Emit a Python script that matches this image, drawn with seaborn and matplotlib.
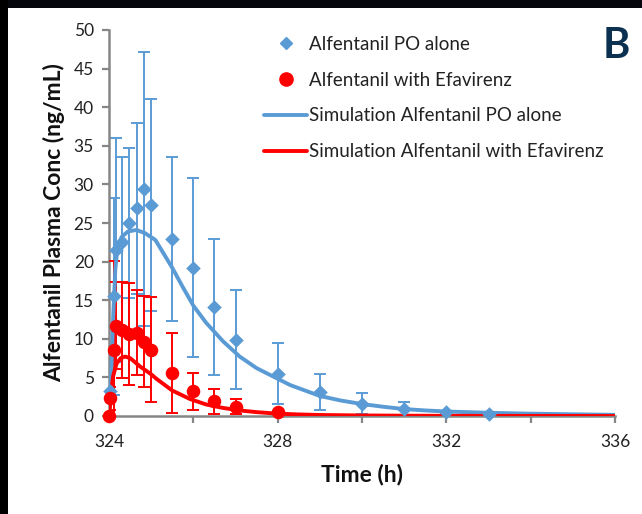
import numpy as np
import pandas as pd
import matplotlib
matplotlib.use("Agg")
import matplotlib.pyplot as plt
import seaborn as sns
from matplotlib.lines import Line2D
from matplotlib.patches import Rectangle

# ---------------- data ----------------
obs_time = [324.03, 324.12, 324.17, 324.30, 324.48, 324.66, 324.82, 325.0, 325.5,
            326.0, 326.5, 327.0, 328.0, 329.0, 330.0, 331.0, 332.0, 333.0]
po_alone_mean = [3.3, 15.5, 21.5, 22.5, 25.0, 26.9, 29.4, 27.3, 22.9,
                 19.2, 14.1, 9.9, 5.5, 3.1, 1.6, 0.9, 0.5, 0.3]
po_alone_sd = [3.6, 12.8, 14.5, 11.0, 9.7, 11.1, 17.7, 13.7, 10.6,
               11.6, 8.8, 6.4, 3.9, 2.3, 1.4, 0.9, 0.2, 0.1]

efv_time = [324.0, 324.03, 324.12, 324.17, 324.30, 324.48, 324.66, 324.82, 325.0,
            325.5, 326.0, 326.5, 327.0, 328.0]
efv_mean = [0.0, 2.3, 8.5, 11.7, 11.1, 10.6, 10.8, 9.6, 8.6,
            5.6, 3.2, 1.9, 1.2, 0.5]
efv_sd = [0.0, 1.5, 11.6, 5.6, 6.2, 6.6, 5.5, 5.9, 6.8,
          5.2, 2.4, 1.6, 1.0, 0.2]

sim_po_time = [324.0, 324.05, 324.1, 324.15, 324.2, 324.3, 324.45, 324.65, 324.85,
               325.1, 325.3, 325.5, 325.75, 326.0, 326.3, 326.7, 327.1, 327.5,
               327.9, 328.3, 328.7, 329.0, 329.5, 330.0, 330.5, 331.0, 331.5,
               332.0, 333.0, 334.0, 335.0, 336.0]
sim_po_conc = [0.0, 5.0, 13.0, 19.0, 21.8, 23.2, 23.9, 24.1, 23.7,
               22.8, 21.0, 19.2, 16.7, 14.3, 12.1, 9.7, 7.7, 6.2,
               5.1, 4.0, 3.2, 2.6, 2.0, 1.55, 1.2, 0.9, 0.72,
               0.58, 0.42, 0.3, 0.22, 0.15]

sim_efv_time = [324.0, 324.03, 324.07, 324.1, 324.18, 324.28, 324.38, 324.5, 324.74,
                325.0, 325.13, 325.5, 325.92, 326.3, 326.7, 327.1, 327.5, 328.0,
                328.5, 329.0, 330.0, 331.0, 332.0, 334.0, 336.0]
sim_efv_conc = [0.0, 1.5, 4.0, 5.2, 6.8, 7.5, 7.7, 7.5, 6.4,
                5.4, 4.8, 3.3, 2.2, 1.5, 1.05, 0.72, 0.5, 0.3,
                0.2, 0.13, 0.07, 0.04, 0.02, 0.01, 0.0]

x_ticks = [324, 326, 328, 330, 332, 334, 336]
x_ticklabels = ["324", "", "328", "", "332", "", "336"]
y_ticks = [0, 5, 10, 15, 20, 25, 30, 35, 40, 45, 50]

labels = ["Alfentanil PO alone", "Alfentanil with Efavirenz",
          "Simulation Alfentanil PO alone", "Simulation Alfentanil with Efavirenz"]

BLUE = "#5B9BD5"
RED = "#FF0000"
AXC = "#868686"

# ---------------- figure ----------------
sns.set_theme(style="white")
plt.rcParams["font.family"] = ["Lato", "DejaVu Sans"]

fig = plt.figure(figsize=(6.42, 5.14), dpi=100)
fig.patch.set_facecolor("white")
# dark frame strips (top and left)
fig.patches.append(Rectangle((0, 1 - 8 / 514), 1, 8 / 514, transform=fig.transFigure,
                             facecolor="#05070c", edgecolor="none", zorder=0))
fig.patches.append(Rectangle((0, 0), 8 / 642, 1, transform=fig.transFigure,
                             facecolor="#000000", edgecolor="none", zorder=0))

ax = fig.add_axes([109 / 642, (514 - 416) / 514, (615 - 109) / 642, (416 - 30) / 514])
ax.set_facecolor("white")

df_po = pd.DataFrame({"time": obs_time, "conc": po_alone_mean, "sd": po_alone_sd})
df_efv = pd.DataFrame({"time": efv_time, "conc": efv_mean, "sd": efv_sd})
df_sim_po = pd.DataFrame({"time": sim_po_time, "conc": sim_po_conc})
df_sim_efv = pd.DataFrame({"time": sim_efv_time, "conc": sim_efv_conc})

# error bars
ax.errorbar(df_po["time"], df_po["conc"], yerr=df_po["sd"], fmt="none",
            ecolor=BLUE, elinewidth=1.4, capsize=4.5, capthick=1.4, zorder=2)
ax.errorbar(df_efv["time"], df_efv["conc"], yerr=df_efv["sd"], fmt="none",
            ecolor=RED, elinewidth=1.4, capsize=4.5, capthick=1.4, zorder=3)

# simulation lines
sns.lineplot(data=df_sim_po, x="time", y="conc", color=BLUE, linewidth=2.8,
             ax=ax, zorder=4, estimator=None, sort=True)
sns.lineplot(data=df_sim_efv, x="time", y="conc", color=RED, linewidth=2.8,
             ax=ax, zorder=5, estimator=None, sort=True)

# observed points
sns.scatterplot(data=df_po, x="time", y="conc", marker="D", s=55, color=BLUE,
                edgecolor=BLUE, linewidth=0, ax=ax, zorder=6, clip_on=False)
sns.scatterplot(data=df_efv, x="time", y="conc", marker="o", s=95, color=RED,
                edgecolor=RED, linewidth=0, ax=ax, zorder=7, clip_on=False)

ax.set_xlim(324, 336)
ax.set_ylim(0, 50)
ax.set_xticks(x_ticks)
ax.set_xticklabels(x_ticklabels)
ax.set_yticks(y_ticks)
ax.set_yticklabels([str(v) for v in y_ticks])

for side in ["top", "right"]:
    ax.spines[side].set_visible(False)
for side in ["left", "bottom"]:
    ax.spines[side].set_color(AXC)
    ax.spines[side].set_linewidth(1.8)

ax.tick_params(axis="both", which="major", direction="out", length=5, width=1.6,
               color=AXC, labelsize=12.5, labelcolor="#222222", left=True, bottom=True)
ax.tick_params(axis="y", pad=6)
ax.tick_params(axis="x", pad=8)

ax.set_xlabel("Time (h)", fontsize=16.5, fontweight="bold", color="#111111", labelpad=10)
ax.set_ylabel("Alfentanil Plasma Conc (ng/mL)", fontsize=16.5, fontweight="bold",
              color="#111111", labelpad=6)

handles = [
    Line2D([], [], linestyle="none", marker="D", markersize=6.5, color=BLUE),
    Line2D([], [], linestyle="none", marker="o", markersize=9.5, color=RED),
    Line2D([], [], color=BLUE, linewidth=2.8),
    Line2D([], [], color=RED, linewidth=2.8),
]
leg = ax.legend(handles, labels, loc="upper left", bbox_to_anchor=(0.292, 1.004),
                frameon=False, fontsize=13.5, labelspacing=1.0, handlelength=2.3,
                handletextpad=0.1, borderaxespad=0)
for t in leg.get_texts():
    t.set_color("#222222")

fig.text(616 / 642, 1 - 46 / 514, "B", fontsize=30, fontweight="bold",
         color="#0B3050", ha="center", va="center")

fig.savefig("out.png", dpi=100, facecolor=fig.get_facecolor())
